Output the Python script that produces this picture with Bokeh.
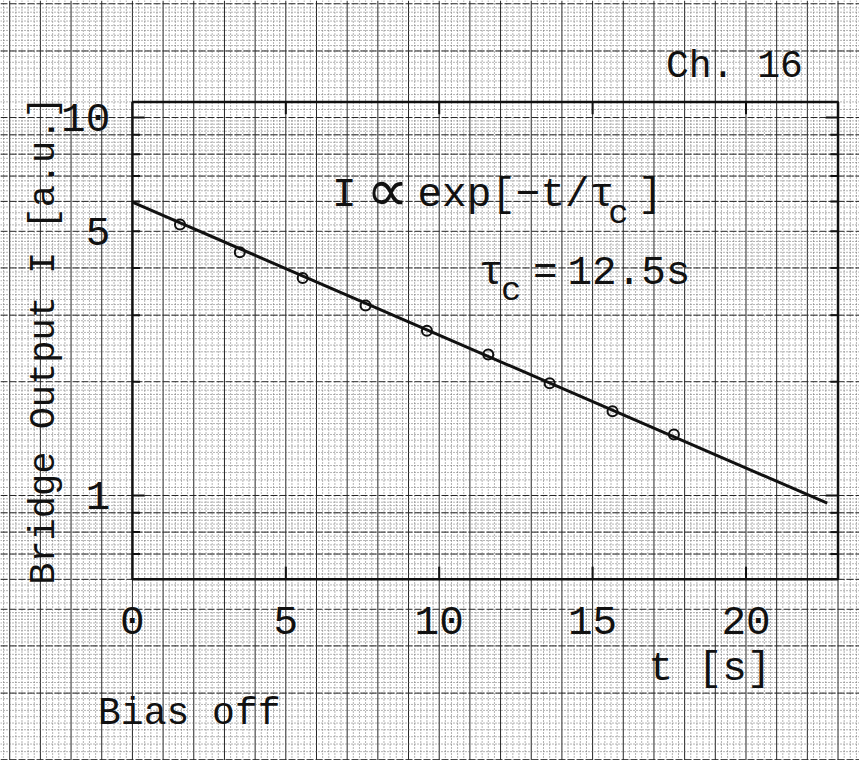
import numpy as np
from bokeh.plotting import figure
from bokeh.models import Range1d
from bokeh.core.properties import value
from bokeh.embed import file_html
from bokeh.resources import INLINE

# Bridge output after the bias is switched off (channel 16)
t_s = [1.55, 3.5, 5.55, 7.6, 9.6, 11.6, 13.6, 15.65, 17.65]
bridge_out = [5.21, 4.40, 3.76, 3.18, 2.73, 2.36, 1.98, 1.67, 1.45]

# exponential fit I ∝ exp(-t/τc), τc = 12.5 s (straight line on the log axis)
fit_t = [0.0, 22.65]
fit_i = [5.97, 0.954]

x_tick_values = [0, 5, 10, 15, 20]
x_tick_labels = ["0", "5", "10", "15", "20"]
y_tick_values = [1, 5, 10]
y_tick_labels = ["1", "5", "10"]
y_minor_ticks = [0.7, 0.8, 0.9, 2, 3, 4, 6, 7, 8, 9]

# limits of the inner plot box
T_MIN, T_MAX = 0.0, 23.0
I_MIN, I_MAX = 0.6, 11.0

# the semi-log paper extends over the whole page
PAGE_T = (-4.3, 23.7)
PAGE_I = (0.199, 20.4)

FONT = value("Liberation Mono")
INK = "#111111"

p = figure(width=859, height=760,
           x_range=Range1d(*PAGE_T), y_range=Range1d(*PAGE_I),
           y_axis_type="log", x_axis_location=None, y_axis_location=None,
           toolbar_location=None, output_backend="svg", min_border=0)
p.grid.visible = False
p.outline_line_color = None
p.background_fill_color = "white"
p.border_fill_color = "white"

# ---- graph paper: linear rulings along t, logarithmic rulings along I ----
vmaj = np.arange(-4, 24)
vmin = np.array([x for x in np.arange(-4.2, 23.7, 0.2) if abs(x - round(x)) > 1e-6])
p.segment(x0=vmin, y0=PAGE_I[0], x1=vmin, y1=PAGE_I[1],
          line_color="#6a6a6a", line_width=1, line_dash="1 2")
p.segment(x0=vmaj, y0=PAGE_I[0], x1=vmaj, y1=PAGE_I[1],
          line_color="#262626", line_width=1)

hmaj, hmin = [], []
for dec in (0.1, 1.0, 10.0):
    for m in range(1, 10):
        hmaj.append(m * dec)
    for lo, hi, step in ((1, 2, 0.05), (2, 5, 0.1), (5, 10, 0.2)):
        for v in np.arange(lo + step, hi - 1e-9, step):
            hmin.append(v * dec)
hmaj.append(15.0)
hmaj = np.array([v for v in hmaj if PAGE_I[0] <= v <= PAGE_I[1]])
hmin = np.array([v for v in hmin if PAGE_I[0] <= v <= PAGE_I[1]])
p.segment(x0=PAGE_T[0], y0=hmin, x1=PAGE_T[1], y1=hmin,
          line_color="#6a6a6a", line_width=1, line_dash="1 2")
p.segment(x0=PAGE_T[0], y0=hmaj, x1=PAGE_T[1], y1=hmaj,
          line_color="#262626", line_width=1, line_dash="7 2")

# ---- plot box and ticks ----
p.quad(left=T_MIN, right=T_MAX, bottom=I_MIN, top=I_MAX,
       fill_color=None, line_color=INK, line_width=2.5)

xt = np.array(x_tick_values[1:], dtype=float)
p.segment(x0=xt, y0=I_MIN, x1=xt, y1=0.648, line_color=INK, line_width=2)
p.segment(x0=xt, y0=I_MAX, x1=xt, y1=10.2, line_color=INK, line_width=2)

ymaj = np.array([1.0, 10.0])
ymin_t = np.array(y_minor_ticks + [5], dtype=float)
for x_edge, d_long, d_short in ((T_MIN, 0.4, 0.25), (T_MAX, -0.4, -0.25)):
    p.segment(x0=x_edge, y0=ymaj, x1=x_edge + d_long, y1=ymaj, line_color=INK, line_width=2)
    p.segment(x0=x_edge, y0=ymin_t, x1=x_edge + d_short, y1=ymin_t, line_color=INK, line_width=2)

# ---- data and fit ----
p.line(fit_t, fit_i, line_color=INK, line_width=3)
p.scatter(t_s, bridge_out, marker="circle", size=10, fill_color=None,
          line_color=INK, line_width=2)

# ---- tick labels ----
p.text(x=x_tick_values, y=[0.467] * len(x_tick_values), text=x_tick_labels,
       text_font=FONT, text_font_size="41px", text_color=INK,
       text_align="center", text_baseline="middle")
p.text(x=[-0.72] * len(y_tick_values), y=y_tick_values, text=y_tick_labels,
       text_font=FONT, text_font_size="41px", text_color=INK,
       text_align="right", text_baseline="middle")

# ---- axis titles and annotations ----
def label(x, y, s, size="41px", align="left", baseline="alphabetic", angle=0.0):
    p.text(x=[x], y=[y], text=[s], text_font=FONT, text_font_size=size,
           text_color=INK, text_align=align, text_baseline=baseline, angle=angle)

label(-2.87, 2.57, "Bridge Output I [a.u.]", size="37px",
      align="center", baseline="middle", angle=np.pi / 2)
label(16.82, 0.3485, "t  [s]", baseline="middle")
label(-1.12, 0.265, "Bias off", size="38px", baseline="middle")
label(21.85, 13.64, "Ch. 16", size="38px", align="right", baseline="middle")

# I ∝ exp[-t/τc]
label(6.91, 6.22, "I", align="center")
label(8.3, 6.22, "∝", size="60px", align="center")
label(9.29, 6.22, "exp[−t/τ")
label(15.84, 5.57, "c", size="34px", align="center")
label(16.88, 6.22, "]", align="center")

# τc = 12.5 s
label(11.70, 3.867, "τ", align="center")
label(12.35, 3.485, "c", size="34px", align="center")
label(13.46, 3.867, "=", align="center")
label(14.18, 3.867, "12.5s", size="41px")

open("out.html", "w").write(file_html(p, INLINE))
